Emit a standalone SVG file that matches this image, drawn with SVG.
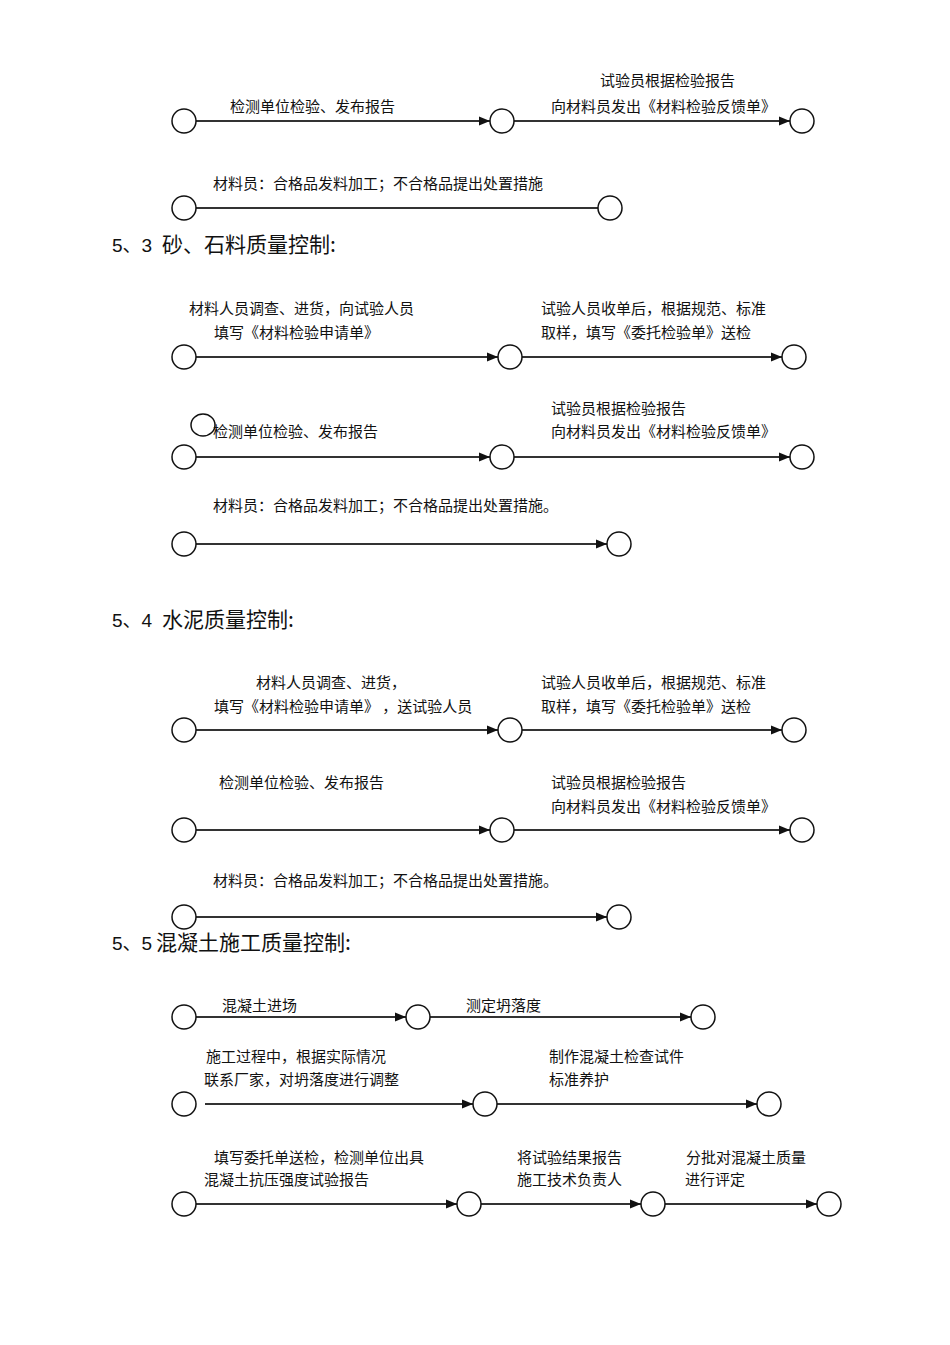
<svg xmlns="http://www.w3.org/2000/svg" width="950" height="1345" viewBox="0 0 950 1345">
<style>
.t{font-family:"Noto Sans CJK SC","Liberation Sans",sans-serif;font-size:15px;fill:#111}
.h{font-family:"Liberation Sans","Noto Sans CJK SC",sans-serif;font-size:19px;fill:#111}
.hc{font-family:"Noto Sans CJK SC","Liberation Sans",sans-serif;font-size:21px}
.n{fill:#fff;stroke:#111;stroke-width:1.5}
.c{stroke:#333;stroke-width:2;fill:none}
.a{marker-end:url(#arr)}
</style>
<defs>
<marker id="arr" markerUnits="userSpaceOnUse" markerWidth="12" markerHeight="10" refX="11" refY="5" orient="auto">
<path d="M0,0.5 L11,5 L0,9.5 Z" fill="#111"/>
</marker>
</defs>
<rect width="950" height="1345" fill="#fff"/>

<g id="headings">
<text class="h" y="252"><tspan x="112">5、3</tspan><tspan class="hc" x="162">砂、石料质量控制:</tspan></text>
<text class="h" y="627"><tspan x="112">5、4</tspan><tspan class="hc" x="162">水泥质量控制:</tspan></text>
<text class="h" y="950"><tspan x="112">5、5</tspan><tspan class="hc" x="156">混凝土施工质量控制:</tspan></text>
</g>

<g id="connectors">
<line class="c a" x1="196" y1="121" x2="490" y2="121"/>
<line class="c a" x1="514" y1="121" x2="790" y2="121"/>
<line class="c" x1="196" y1="208" x2="598" y2="208"/>

<line class="c a" x1="196" y1="357" x2="498" y2="357"/>
<line class="c a" x1="522" y1="357" x2="782" y2="357"/>
<line class="c a" x1="196" y1="457" x2="490" y2="457"/>
<line class="c a" x1="514" y1="457" x2="790" y2="457"/>
<line class="c a" x1="196" y1="544" x2="607" y2="544"/>

<line class="c a" x1="196" y1="730" x2="498" y2="730"/>
<line class="c a" x1="522" y1="730" x2="782" y2="730"/>
<line class="c a" x1="196" y1="830" x2="490" y2="830"/>
<line class="c a" x1="514" y1="830" x2="790" y2="830"/>
<line class="c a" x1="196" y1="917" x2="607" y2="917"/>

<line class="c a" x1="196" y1="1017" x2="406" y2="1017"/>
<line class="c a" x1="430" y1="1017" x2="691" y2="1017"/>
<line class="c a" x1="205" y1="1104" x2="473" y2="1104"/>
<line class="c a" x1="497" y1="1104" x2="757" y2="1104"/>
<line class="c a" x1="196" y1="1204" x2="457" y2="1204"/>
<line class="c a" x1="481" y1="1204" x2="641" y2="1204"/>
<line class="c a" x1="665" y1="1204" x2="817" y2="1204"/>
</g>

<g id="n1"><ellipse class="n" cx="184" cy="121" rx="12" ry="12"/></g>
<g id="n2"><ellipse class="n" cx="502" cy="121" rx="12" ry="12"/></g>
<g id="n3"><ellipse class="n" cx="802" cy="121" rx="12" ry="12"/></g>
<g id="n4"><ellipse class="n" cx="184" cy="208" rx="12" ry="12"/></g>
<g id="n5"><ellipse class="n" cx="610" cy="208" rx="12" ry="12"/></g>

<g id="n6"><ellipse class="n" cx="184" cy="357" rx="12" ry="12"/></g>
<g id="n7"><ellipse class="n" cx="510" cy="357" rx="12" ry="12"/></g>
<g id="n8"><ellipse class="n" cx="794" cy="357" rx="12" ry="12"/></g>
<g id="n9"><ellipse class="n" cx="203" cy="425" rx="12" ry="11"/></g>
<g id="n10"><ellipse class="n" cx="184" cy="457" rx="12" ry="12"/></g>
<g id="n11"><ellipse class="n" cx="502" cy="457" rx="12" ry="12"/></g>
<g id="n12"><ellipse class="n" cx="802" cy="457" rx="12" ry="12"/></g>
<g id="n13"><ellipse class="n" cx="184" cy="544" rx="12" ry="12"/></g>
<g id="n14"><ellipse class="n" cx="619" cy="544" rx="12" ry="12"/></g>

<g id="n15"><ellipse class="n" cx="184" cy="730" rx="12" ry="12"/></g>
<g id="n16"><ellipse class="n" cx="510" cy="730" rx="12" ry="12"/></g>
<g id="n17"><ellipse class="n" cx="794" cy="730" rx="12" ry="12"/></g>
<g id="n18"><ellipse class="n" cx="184" cy="830" rx="12" ry="12"/></g>
<g id="n19"><ellipse class="n" cx="502" cy="830" rx="12" ry="12"/></g>
<g id="n20"><ellipse class="n" cx="802" cy="830" rx="12" ry="12"/></g>
<g id="n21"><ellipse class="n" cx="184" cy="917" rx="12" ry="12"/></g>
<g id="n22"><ellipse class="n" cx="619" cy="917" rx="12" ry="12"/></g>

<g id="n23"><ellipse class="n" cx="184" cy="1017" rx="12" ry="12"/></g>
<g id="n24"><ellipse class="n" cx="418" cy="1017" rx="12" ry="12"/></g>
<g id="n25"><ellipse class="n" cx="703" cy="1017" rx="12" ry="12"/></g>
<g id="n26"><ellipse class="n" cx="184" cy="1104" rx="12" ry="12"/></g>
<g id="n27"><ellipse class="n" cx="485" cy="1104" rx="12" ry="12"/></g>
<g id="n28"><ellipse class="n" cx="769" cy="1104" rx="12" ry="12"/></g>
<g id="n29"><ellipse class="n" cx="184" cy="1204" rx="12" ry="12"/></g>
<g id="n30"><ellipse class="n" cx="469" cy="1204" rx="12" ry="12"/></g>
<g id="n31"><ellipse class="n" cx="653" cy="1204" rx="12" ry="12"/></g>
<g id="n32"><ellipse class="n" cx="829" cy="1204" rx="12" ry="12"/></g>

<g id="labels">
<text class="t" x="230" y="112">检测单位检验、发布报告</text>
<text class="t" x="600" y="86">试验员根据检验报告</text>
<text class="t" x="551" y="112">向材料员发出《材料检验反馈单》</text>
<text class="t" x="213" y="189">材料员：合格品发料加工；不合格品提出处置措施</text>

<text class="t" x="189" y="314">材料人员调查、进货，向试验人员</text>
<text class="t" x="214" y="338">填写《材料检验申请单》</text>
<text class="t" x="541" y="314">试验人员收单后，根据规范、标准</text>
<text class="t" x="541" y="338">取样，填写《委托检验单》送检</text>
<text class="t" x="213" y="437">检测单位检验、发布报告</text>
<text class="t" x="551" y="414">试验员根据检验报告</text>
<text class="t" x="551" y="437">向材料员发出《材料检验反馈单》</text>
<text class="t" x="213" y="511">材料员：合格品发料加工；不合格品提出处置措施。</text>

<text class="t" x="256" y="688">材料人员调查、进货，</text>
<text class="t" x="214" y="712">填写《材料检验申请单》 ，送试验人员</text>
<text class="t" x="541" y="688">试验人员收单后，根据规范、标准</text>
<text class="t" x="541" y="712">取样，填写《委托检验单》送检</text>
<text class="t" x="219" y="788">检测单位检验、发布报告</text>
<text class="t" x="551" y="788">试验员根据检验报告</text>
<text class="t" x="551" y="812">向材料员发出《材料检验反馈单》</text>
<text class="t" x="213" y="886">材料员：合格品发料加工；不合格品提出处置措施。</text>

<text class="t" x="222" y="1011">混凝土进场</text>
<text class="t" x="466" y="1011">测定坍落度</text>
<text class="t" x="206" y="1062">施工过程中，根据实际情况</text>
<text class="t" x="204" y="1085">联系厂家，对坍落度进行调整</text>
<text class="t" x="549" y="1062">制作混凝土检查试件</text>
<text class="t" x="549" y="1085">标准养护</text>
<text class="t" x="214" y="1163">填写委托单送检，检测单位出具</text>
<text class="t" x="204" y="1185">混凝土抗压强度试验报告</text>
<text class="t" x="517" y="1163">将试验结果报告</text>
<text class="t" x="517" y="1185">施工技术负责人</text>
<text class="t" x="686" y="1163">分批对混凝土质量</text>
<text class="t" x="685" y="1185">进行评定</text>
</g>
</svg>
